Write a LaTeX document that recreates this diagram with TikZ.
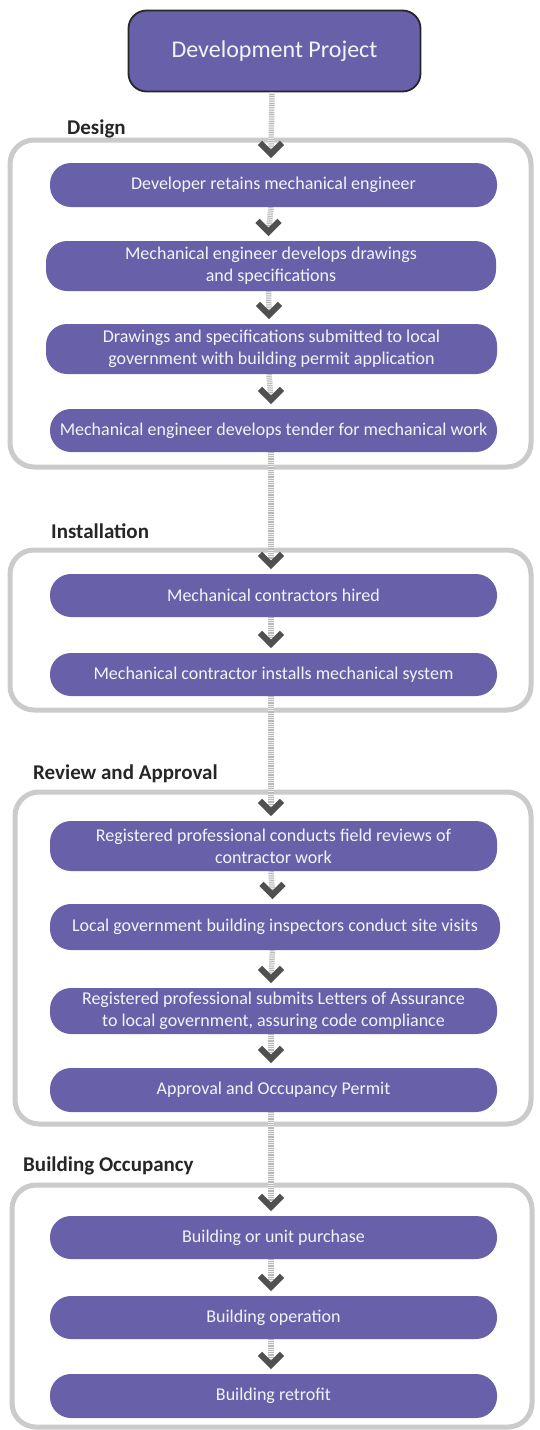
\documentclass[tikz,border=0pt]{standalone}
\usepackage{fontspec}
\setmainfont{Carlito}
\usetikzlibrary{calc}
\definecolor{boxpurple}{HTML}{6860A9}
\definecolor{boxtext}{HTML}{F4F4F8}
\definecolor{groupgray}{HTML}{CBCBCB}
\definecolor{chevgray}{HTML}{505050}
\definecolor{labelgray}{HTML}{262626}
\tikzset{
  stepbox/.style={fill=boxpurple, text=boxtext, rounded corners=21pt, inner sep=0pt,
    minimum width=447pt, minimum height=44pt, align=center,
    font=\fontsize{18}{22}\selectfont},
  topbox/.style={fill=boxpurple, draw=labelgray, line width=1.8pt, text=boxtext,
    rounded corners=18pt, minimum width=292pt, minimum height=81pt,
    font=\fontsize{24}{28}\selectfont},
  groupbox/.style={draw=groupgray, line width=5pt, rounded corners=24pt},
  sect/.style={anchor=west, text=labelgray, inner sep=0pt, font=\bfseries\fontsize{21}{24}\selectfont},
  stripebase/.style={draw=gray!12, line width=5.5pt},
  stripe/.style={draw=gray!55, line width=5.5pt, dash pattern=on 0.8pt off 1pt},
  chev/.style={draw=chevgray, line width=6pt, miter limit=10, line join=miter, line cap=butt},
}
\newcommand\conn[2]{%
  \draw[stripebase] ([xshift=-2.5pt]#1.south) -- ([xshift=-2.5pt,yshift=9pt]#2.north);
  \draw[stripe] ([xshift=-2.5pt]#1.south) -- ([xshift=-2.5pt,yshift=9pt]#2.north);
  \draw[chev] ([xshift=-13.5pt,yshift=20pt]#2.north) -- ([xshift=-2.5pt,yshift=9pt]#2.north) -- ([xshift=8.5pt,yshift=20pt]#2.north);
}
\begin{document}
\begin{tikzpicture}[x=1pt,y=-1pt]
\useasboundingbox (0,0) rectangle (539,1430);
\fill[white] (0,0) rectangle (539,1430);

% group frames
\draw[groupbox] (10,140) rectangle (531,467);
\draw[groupbox] (10,550) rectangle (531,710);
\draw[groupbox] (15,792) rectangle (531,1124);
\draw[groupbox] (12,1185) rectangle (532,1427);

% section labels
\node[sect] (lDesign) at (67,129) {Design};
\node[sect] (lInst) at (51,531) {Installation};
\node[sect] (lRev) at (33,774) {Review and Approval};
\node[sect] (lOcc) at (23,1166) {Building Occupancy};

% nodes
\node[topbox] (b0) at (274.5,51) {Development Project};

\node[stepbox] (b1) at (273.5,185) {Developer retains mechanical engineer};
\node[stepbox, minimum width=450pt, minimum height=50pt] (b2) at (271,266) {Mechanical engineer develops drawings\\and specifications};
\node[stepbox, minimum width=451pt, minimum height=50pt] (b3) at (271.5,349) {Drawings and specifications submitted to local\\government with building permit application};
\node[stepbox, minimum height=43pt] (b4) at (273.5,430.5) {Mechanical engineer develops tender for mechanical work};

\node[stepbox, minimum height=43pt] (b5) at (273.5,595.5) {Mechanical contractors hired};
\node[stepbox, minimum height=43pt] (b6) at (273.5,674.5) {Mechanical contractor installs mechanical system};

\node[stepbox, minimum height=50pt] (b7) at (273.5,846) {Registered professional conducts field reviews of\\contractor work};
\node[stepbox, minimum width=450pt, minimum height=46pt] (b8) at (275,927) {\raisebox{3pt}{Local government building inspectors conduct site visits}};
\node[stepbox, minimum height=46pt] (b9) at (273.5,1011) {Registered professional submits Letters of Assurance\\to local government, assuring code compliance};
\node[stepbox] (b10) at (273.5,1090) {Approval and Occupancy Permit};

\node[stepbox, minimum height=43pt] (b11) at (273.5,1237.5) {Building or unit purchase};
\node[stepbox, minimum height=43pt] (b12) at (273.5,1317.5) {Building operation};
\node[stepbox] (b13) at (273.5,1396) {Building retrofit};

% connectors
\conn{b0}{b1}
\conn{b1}{b2}
\conn{b2}{b3}
\conn{b3}{b4}
\conn{b4}{b5}
\conn{b5}{b6}
\conn{b6}{b7}
\conn{b7}{b8}
\conn{b8}{b9}
\conn{b9}{b10}
\conn{b10}{b11}
\conn{b11}{b12}
\conn{b12}{b13}
\end{tikzpicture}
\end{document}
